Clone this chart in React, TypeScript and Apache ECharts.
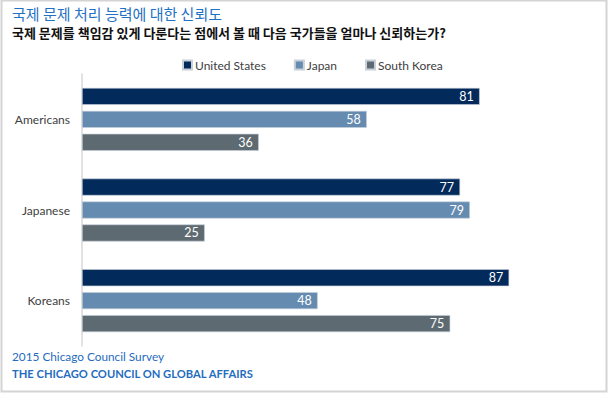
import React, { useEffect, useRef } from "react";
import * as echarts from "echarts";

const categories = ["Americans", "Japanese", "Koreans"];
const seriesNames = ["United States", "Japan", "South Korea"];
const usValues = [81, 77, 87];
const japanValues = [58, 79, 48];
const koreaValues = [36, 25, 75];
const colors = ["#022a5b", "#658bb1", "#5e6a72"];
const titleText = "국제 문제 처리 능력에 대한 신뢰도";
const subtitleText = "국제 문제를 책임감 있게 다룬다는 점에서 볼 때 다음 국가들을 얼마나 신뢰하는가?";
const sourceText = "2015 Chicago Council Survey";
const orgText = "THE CHICAGO COUNCIL ON GLOBAL AFFAIRS";

const FONT = "Lato, 'Noto Sans', 'Noto Sans CJK KR', sans-serif";

export default function App() {
  const ref = useRef<HTMLDivElement>(null);
  useEffect(() => {
    if (!ref.current) return;
    const chart = echarts.init(ref.current, null, { renderer: "svg" });
    const data = [usValues, japanValues, koreaValues];
    chart.setOption({
      animation: false,
      backgroundColor: "#ffffff",
      textStyle: { fontFamily: FONT },
      graphic: [
        {
          type: "rect",
          shape: { x: 1.5, y: 0.5, width: 605, height: 391 },
          style: { fill: "none", stroke: "#d4d4d4", lineWidth: 2 },
          silent: true,
        },
        {
          type: "text",
          left: 12,
          top: 6,
          style: { text: titleText, fill: "#1f72c4", font: "15px 'Noto Sans CJK KR', sans-serif" },
        },
        {
          type: "text",
          left: 12,
          top: 26,
          style: { text: subtitleText, fill: "#111111", font: "bold 13px 'Noto Sans CJK KR', sans-serif" },
        },
        {
          type: "text",
          left: 12,
          top: 351,
          style: { text: sourceText, fill: "#1f6cc0", font: "11.8px " + FONT },
        },
        {
          type: "text",
          left: 12,
          top: 368,
          style: { text: orgText, fill: "#1f6cc0", font: "bold 11.2px " + FONT },
        },
      ],
      legend: {
        top: 59,
        left: 182,
        padding: 0,
        itemWidth: 9,
        itemHeight: 9,
        itemGap: 28,
        icon: "rect",
        textStyle: { color: "#404040", fontSize: 12, fontFamily: FONT, padding: [0, 0, 0, -2] },
        data: seriesNames,
      },
      grid: { left: 82, right: 37, top: 74, bottom: 48, containLabel: false },
      xAxis: {
        type: "value",
        min: 0,
        max: 100,
        show: false,
      },
      yAxis: {
        type: "category",
        data: categories,
        inverse: true,
        axisLine: { show: true, lineStyle: { color: "#d9d9d9", width: 1.5 } },
        axisTick: { show: false },
        axisLabel: { color: "#404040", fontSize: 12, fontFamily: FONT, margin: 12 },
      },
      series: seriesNames.map((name, i) => ({
        name,
        type: "bar",
        data: data[i],
        barWidth: 17,
        barGap: "35%",
        itemStyle: { color: colors[i], borderColor: "#c8d0da", borderWidth: 0.6 },
        label: {
          show: true,
          position: "insideRight",
          color: "#ffffff",
          fontSize: 12.5,
          fontFamily: FONT,
          distance: 6,
        },
      })),
    });
    return () => chart.dispose();
  }, []);
  return (
    <div
      ref={ref}
      style={{ position: "fixed", left: 0, top: 0, width: 610, height: 394 }}
    />
  );
}
